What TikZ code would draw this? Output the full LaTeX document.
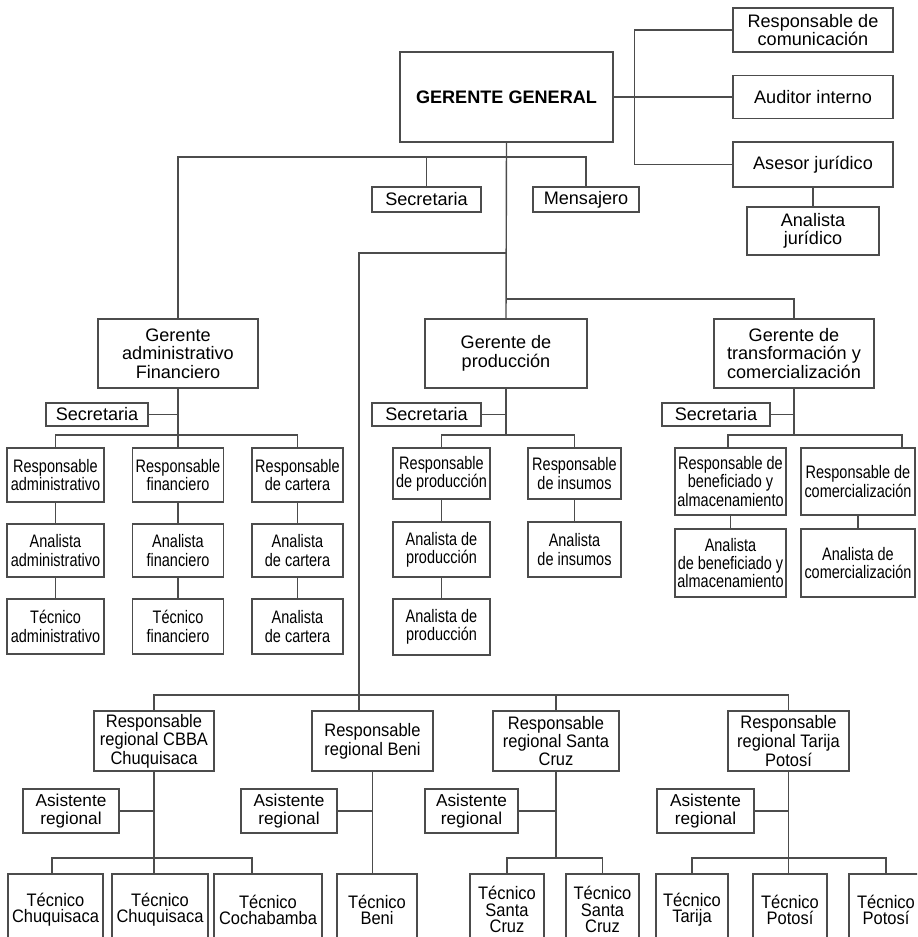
\documentclass[tikz,border=0pt]{standalone}
\usepackage{fontspec}
\setmainfont{Liberation Sans}
\newfontfamily\narrowfont[FakeStretch=0.8]{Liberation Sans}
\newfontfamily\semifont[FakeStretch=0.91]{Liberation Sans}
\usetikzlibrary{positioning}
\tikzset{
  box/.style={draw=black!70, line width=0.8pt, align=center, inner sep=1pt, text=black, font=\fontsize{10.3}{10.6}\selectfont},
  nbox/.style={box, font=\narrowfont\fontsize{10.3}{10.4}\selectfont},
  rbox/.style={box, font=\semifont\fontsize{10.3}{9.2}\selectfont},
  abox/.style={box, font=\fontsize{9.8}{10}\selectfont},
  sz/.style 2 args={minimum width=#1*0.02cm, minimum height=#2*0.02cm},
  ln/.style={draw=black!70, line width=0.8pt}
}
\begin{document}
\begin{tikzpicture}[x=0.02cm, y=-0.02cm]
  \path[use as bounding box, fill=white] (0,0) rectangle (917,937);
  \clip (0,0) rectangle (917,937);
  \node[box, sz={213}{90}] (gg) at (506.5,97) {\textbf{GERENTE GENERAL}};
  \node[box, sz={160}{44}] (comu) at (813,30) {Responsable de\\comunicación};
  \node[box, sz={160}{43}] (audit) at (813,97) {Auditor interno};
  \node[box, sz={160}{45}] (asesor) at (813,164.5) {Asesor jurídico};
  \node[box, sz={132}{48}] (anjur) at (813,231) {Analista\\jurídico};
  \node[box, sz={109}{25}] (secg) at (426.5,199.5) {Secretaria};
  \node[box, sz={106}{25}] (mens) at (586,199.5) {Mensajero};
  \node[box, sz={160}{69}] (gad) at (178,353.5) {Gerente\\administrativo\\Financiero};
  \node[box, sz={162}{69}] (prod) at (506,353.5) {Gerente de\\producción};
  \node[box, sz={160}{69}] (trans) at (794,353.5) {Gerente de\\transformación y\\comercialización};
  \node[box, sz={102}{23}] (sadm) at (97,414.5) {Secretaria};
  \node[box, sz={109}{23}] (spro) at (426.5,414.5) {Secretaria};
  \node[box, sz={108}{23}] (stra) at (716,414.5) {Secretaria};
  \node[nbox, sz={97}{54}] (radm) at (55.5,475) {Responsable\\administrativo};
  \node[nbox, sz={91}{54}] (rfin) at (178,475) {Responsable\\financiero};
  \node[nbox, sz={91}{54}] (rcar) at (297.5,475) {Responsable\\de cartera};
  \node[nbox, sz={97}{53}] (aadm) at (55.5,550.5) {Analista\\administrativo};
  \node[nbox, sz={91}{53}] (afin) at (178,550.5) {Analista\\financiero};
  \node[nbox, sz={91}{53}] (acar) at (297.5,550.5) {Analista\\de cartera};
  \node[nbox, sz={97}{55}] (tadm) at (55.5,626.5) {Técnico\\administrativo};
  \node[nbox, sz={91}{55}] (tfin) at (178,626.5) {Técnico\\financiero};
  \node[nbox, sz={91}{55}] (acar2) at (297.5,626.5) {Analista\\de cartera};
  \node[nbox, sz={97}{51}] (rpro) at (441.5,473.5) {Responsable\\de producción};
  \node[nbox, sz={93}{51}] (rins) at (574.5,473.5) {Responsable\\de insumos};
  \node[nbox, sz={97}{55}] (apro) at (441.5,549.5) {Analista de\\producción};
  \node[nbox, sz={93}{55}] (ains) at (574.5,549.5) {Analista\\de insumos};
  \node[nbox, sz={97}{56}] (apro2) at (441.5,627) {Analista de\\producción};
  \node[nbox, sz={111}{67}] (rben) at (730.5,481.5) {Responsable de\\beneficiado y\\almacenamiento};
  \node[nbox, sz={114}{67}] (rcom) at (858,481.5) {Responsable de\\comercialización};
  \node[nbox, sz={111}{68}] (aben) at (730.5,563) {Analista\\de beneficiado y\\almacenamiento};
  \node[nbox, sz={114}{68}] (acom) at (858,563) {Analista de\\comercialización};
  \node[rbox, sz={120}{60}] (rcbba) at (154,741) {Responsable\\regional CBBA\\Chuquisaca};
  \node[rbox, sz={121}{60}] (rbeni) at (372.5,741) {Responsable\\regional Beni};
  \node[rbox, sz={126}{60}] (rsc) at (556,741) {Responsable\\regional Santa\\Cruz};
  \node[rbox, sz={121}{60}] (rtp) at (788.5,741) {Responsable\\regional Tarija\\Potosí};
  \node[abox, sz={96}{44}] (acbba) at (71,811) {Asistente\\regional};
  \node[abox, sz={96}{44}] (abeni) at (289,811) {Asistente\\regional};
  \node[abox, sz={93}{44}] (asc) at (471.5,811) {Asistente\\regional};
  \node[abox, sz={97}{44}] (atp) at (705.5,811) {Asistente\\regional};
  \node[rbox, sz={95}{71}] (tchu1) at (55.5,909.5) {Técnico\\Chuquisaca};
  \node[rbox, sz={96}{71}] (tchu2) at (160,909.5) {Técnico\\Chuquisaca};
  \node[rbox, sz={108}{71}] (tcoc) at (268,909.5) {Técnico\\Cochabamba};
  \node[rbox, sz={80}{71}] (tbeni) at (377,909.5) {Técnico\\Beni};
  \node[rbox, sz={74}{71}] (tsc1) at (507,909.5) {Técnico\\Santa\\Cruz};
  \node[rbox, sz={73}{71}] (tsc2) at (602.5,909.5) {Técnico\\Santa\\Cruz};
  \node[rbox, sz={72}{71}] (ttar) at (692,909.5) {Técnico\\Tarija};
  \node[rbox, sz={74}{71}] (tpot1) at (790,909.5) {Técnico\\Potosí};
  \node[rbox, sz={74}{71}] (tpot2) at (886,909.5) {Técnico\\Potosí};
  \coordinate (bus) at (506,157);
  \coordinate (lk) at (506,253);
  \coordinate (lv) at (359,253);
  \coordinate (rg) at (359,695);
  \coordinate (jt) at (506,299);
  \coordinate (badm) at (178,435);
  \coordinate (bpro) at (506,435);
  \coordinate (btra) at (794,435);
  \coordinate (bcb) at (154,858);
  \coordinate (bsc) at (556,858);
  \coordinate (btp) at (789,858);
  \draw[ln] (gg.east) -- ++(21,0) coordinate (gr);
  \draw[ln] (comu.west) -| (gr) |- (asesor.west);
  \draw[ln] (gr) -- (audit.west);
  \draw[ln] (asesor.south) -- (anjur.north);
  \draw[ln] (gg.south) -- (prod.north);
  \draw[ln] (gad.north) |- (bus) -| (mens.north);
  \draw[ln] (secg.north) -- (secg.north |- bus);
  \draw[ln] (lk) -- (lv) -- (lv |- rbeni.north);
  \draw[ln] (rcbba.north) |- (rg) -| (rtp.north);
  \draw[ln] (rsc.north) -- (rsc.north |- rg);
  \draw[ln] (jt) -| (trans.north);
  \draw[ln] (gad.south) -- (rfin.north);
  \draw[ln] (sadm.east) -- (sadm.east -| gad.south);
  \draw[ln] (radm.north) |- (badm) -| (rcar.north);
  \draw[ln] (prod.south) -- (bpro);
  \draw[ln] (spro.east) -- (spro.east -| prod.south);
  \draw[ln] (rpro.north) |- (bpro) -| (rins.north);
  \draw[ln] (trans.south) -- (btra);
  \draw[ln] (stra.east) -- (stra.east -| trans.south);
  \draw[ln] ([xshift=-0.05cm]rben.north) |- (btra) -| ([xshift=0.88cm]rcom.north);
  \foreach \a/\b in {radm/aadm, aadm/tadm, rfin/afin, afin/tfin, rcar/acar, acar/acar2, rpro/apro, apro/apro2, rins/ains, rben/aben, rcom/acom}
    \draw[ln] (\a.south) -- (\b.north);
  \draw[ln] (rcbba.south) -- (rcbba.south |- tchu2.north);
  \draw[ln] (acbba.east) -- (acbba.east -| rcbba.south);
  \draw[ln] ([xshift=-0.07cm]tchu1.north) |- (bcb) -| ([xshift=-0.32cm]tcoc.north);
  \draw[ln] (rbeni.south) -- (rbeni.south |- tbeni.north);
  \draw[ln] (abeni.east) -- (abeni.east -| rbeni.south);
  \draw[ln] (rsc.south) -- (bsc);
  \draw[ln] (asc.east) -- (asc.east -| bsc);
  \draw[ln] (tsc1.north) |- (bsc) -| (tsc2.north);
  \draw[ln] (rtp.south) -- (rtp.south |- tpot1.north);
  \draw[ln] (atp.east) -- (atp.east -| rtp.south);
  \draw[ln] (ttar.north) |- (btp) -| (tpot2.north);
\end{tikzpicture}
\end{document}
